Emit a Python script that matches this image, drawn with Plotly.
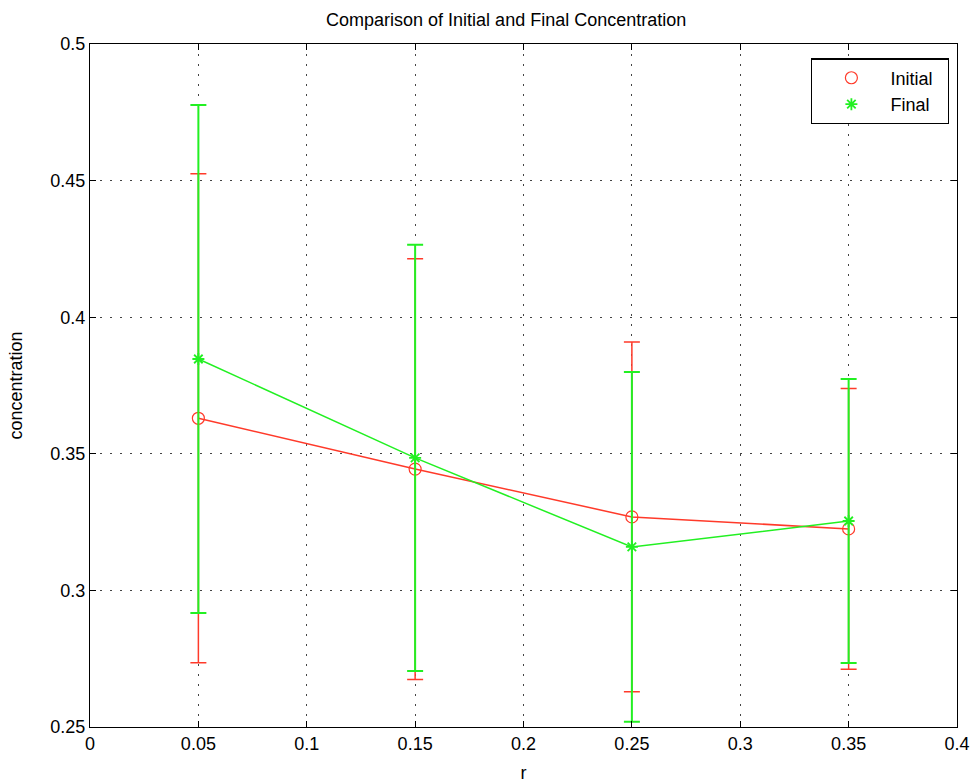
import plotly.graph_objects as go

r = [0.05, 0.15, 0.25, 0.35]
initial = [0.363, 0.3444, 0.3269, 0.3225]
initial_err = [0.0895, 0.077, 0.064, 0.0514]
final = [0.3847, 0.3485, 0.3159, 0.3254]
final_err = [0.093, 0.078, 0.064, 0.052]

x_ticks = [0, 0.05, 0.1, 0.15, 0.2, 0.25, 0.3, 0.35, 0.4]
x_ticklabels = ["0", "0.05", "0.1", "0.15", "0.2", "0.25", "0.3", "0.35", "0.4"]
y_ticks = [0.25, 0.3, 0.35, 0.4, 0.45, 0.5]
y_ticklabels = ["0.25", "0.3", "0.35", "0.4", "0.45", "0.5"]

RED = "#ff3a2a"
GREEN = "#22f022"
FONT = "Liberation Sans"
FS = 18

fig = go.Figure()

fig.add_trace(go.Scatter(
    x=r, y=initial, mode="lines+markers", name="Initial", showlegend=False,
    line=dict(color=RED, width=1.5),
    marker=dict(symbol="circle-open", size=12, color=RED, line=dict(width=1.2)),
    error_y=dict(type="data", array=initial_err, visible=True, color=RED, thickness=1.5, width=8),
))
fig.add_trace(go.Scatter(
    x=r, y=final, mode="lines+markers", name="Final", showlegend=False,
    line=dict(color=GREEN, width=1.5),
    marker=dict(symbol="asterisk-open", size=10, color=GREEN, line=dict(width=1.8, color=GREEN)),
    error_y=dict(type="data", array=final_err, visible=True, color=GREEN, thickness=2, width=8),
))
# legend entries (markers only)
fig.add_trace(go.Scatter(
    x=[None], y=[None], mode="markers", name="Initial&nbsp;&nbsp;",
    marker=dict(symbol="circle-open", size=12, color=RED, line=dict(width=1.2)),
))
fig.add_trace(go.Scatter(
    x=[None], y=[None], mode="markers", name="Final",
    marker=dict(symbol="asterisk-open", size=10, color=GREEN, line=dict(width=1.8, color=GREEN)),
))

axis_common = dict(
    showline=True, linecolor="black", linewidth=1.2, mirror="ticks",
    ticks="inside", ticklen=6, tickcolor="black",
    showgrid=True, gridcolor="#444444", gridwidth=1, griddash="2px,8px",
    zeroline=False, tickfont=dict(family=FONT, size=FS, color="black"),
    automargin=False,
)

fig.update_xaxes(range=[0, 0.4], tickvals=x_ticks, ticktext=x_ticklabels,
                 title=dict(text="r", font=dict(family=FONT, size=FS, color="black"), standoff=14),
                 **axis_common)
fig.update_yaxes(range=[0.25, 0.5], tickvals=y_ticks, ticktext=y_ticklabels,
                 title=dict(text="concentration", font=dict(family=FONT, size=FS, color="black"), standoff=22),
                 **axis_common)

fig.update_layout(
    width=971, height=783,
    margin=dict(l=90, r=14, t=44, b=56),
    paper_bgcolor="white", plot_bgcolor="white",
    title=dict(text="Comparison of Initial and Final Concentration", x=0.48, xanchor="center",
               xref="paper", y=0.975, yanchor="middle",
               font=dict(family=FONT, size=FS, color="black")),
    legend=dict(x=0.991, y=0.979, xanchor="right", yanchor="top",
                bgcolor="white", bordercolor="black", borderwidth=1.2,
                font=dict(family=FONT, size=FS, color="black"),
                itemwidth=68, tracegroupgap=4),
    showlegend=True,
)

# remove the default 8px page margin so the figure sits at the window's top-left corner
fig.write_html("out.html", config={"displayModeBar": False},
               post_script="document.body.style.margin='0';")
